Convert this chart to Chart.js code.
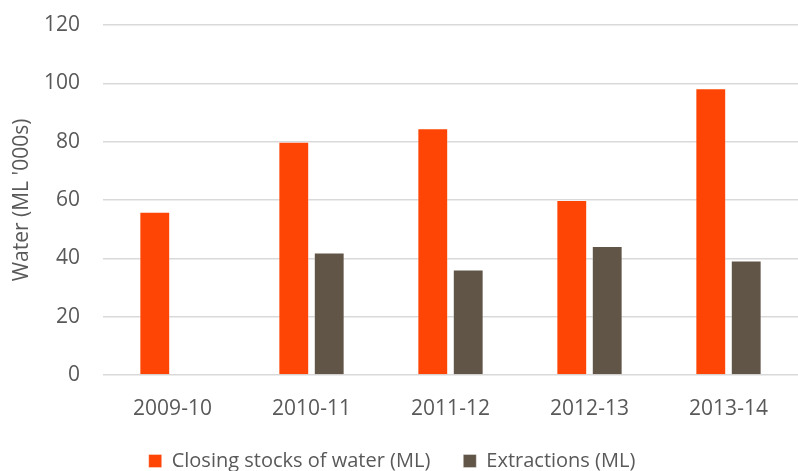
<!DOCTYPE html>
<html>
<head>
<meta charset="utf-8">
<script src="https://cdn.jsdelivr.net/npm/chart.js@4"></script>
<style>
  html, body { margin: 0; padding: 0; background: #fff; }
  #wrap { width: 798px; height: 471px; }
</style>
</head>
<body>
<div id="wrap"><canvas id="waterChart"></canvas></div>
<script>
// chart data
const years = ['2009-10', '2010-11', '2011-12', '2012-13', '2013-14'];
const closingStocks = [56, 80, 84.6, 60, 98.3];
const extractions = [null, 42, 36.2, 44.2, 39.3];
const yTicks = [0, 20, 40, 60, 80, 100, 120];

const textColor = '#595959';
const fontFamily = '"Open Sans", "Noto Sans", sans-serif';
const fontSize = 21;

document.addEventListener('DOMContentLoaded', function () {
    const ctx = document.getElementById('waterChart').getContext('2d');
    new Chart(ctx, {
        type: 'bar',
        data: {
            labels: years,
            datasets: [{
                label: 'Closing stocks of water (ML)',
                data: closingStocks,
                backgroundColor: '#FF4505',
                borderColor: 'rgba(255,255,255,0.35)',
                borderWidth: 1,
                categoryPercentage: 0.51,
                barPercentage: 0.87
            }, {
                label: 'Extractions (ML)',
                data: extractions,
                backgroundColor: '#615548',
                borderColor: 'rgba(255,255,255,0.35)',
                borderWidth: 1,
                categoryPercentage: 0.51,
                barPercentage: 0.87
            }]
        },
        options: {
            responsive: true,
            maintainAspectRatio: false,
            animation: false,
            layout: {
                padding: { top: 25, left: 6, right: 0, bottom: 0 }
            },
            plugins: {
                legend: {
                    position: 'bottom',
                    maxHeight: 53,
                    labels: {
                        color: textColor,
                        font: { family: fontFamily, size: 20, lineHeight: 1 },
                        boxWidth: 13,
                        boxHeight: 13,
                        padding: 33
                    }
                },
                tooltip: { enabled: false }
            },
            scales: {
                x: {
                    grid: { display: false },
                    border: { display: false },
                    ticks: {
                        color: textColor,
                        font: { family: fontFamily, size: fontSize, lineHeight: 1 },
                        padding: 15.5
                    },
                    // tighter axis box so the legend sits right under the labels
                    afterFit: function (scale) {
                        scale.height = 43;
                    }
                },
                y: {
                    min: 0,
                    max: 120,
                    afterBuildTicks: function (axis) {
                        axis.ticks = yTicks.map(v => ({ value: v }));
                    },
                    afterFit: function (scale) {
                        scale.width = 97;
                    },
                    grid: {
                        color: '#d9d9d9',
                        lineWidth: 1.4,
                        drawTicks: true,
                        tickLength: 19,
                        tickColor: 'rgba(0,0,0,0)'
                    },
                    border: { display: false },
                    ticks: {
                        color: textColor,
                        font: { family: fontFamily, size: fontSize },
                        padding: 4
                    },
                    title: {
                        display: true,
                        text: "Water (ML '000s)",
                        color: textColor,
                        font: { family: fontFamily, size: fontSize },
                        padding: { top: 3, bottom: 0 }
                    }
                }
            }
        },
        plugins: [{
            id: 'whiteBg',
            beforeDraw: function (chart) {
                const c = chart.ctx;
                c.save();
                c.fillStyle = '#ffffff';
                c.fillRect(0, 0, chart.width, chart.height);
                c.restore();
            }
        }, {
            // nudge legend a little left, like the original
            id: 'legendShift',
            afterLayout: function (chart) {
                if (chart.legend) {
                    chart.legend.left -= 10;
                    chart.legend.right -= 10;
                }
            }
        }]
    });
});
</script>
</body>
</html>
